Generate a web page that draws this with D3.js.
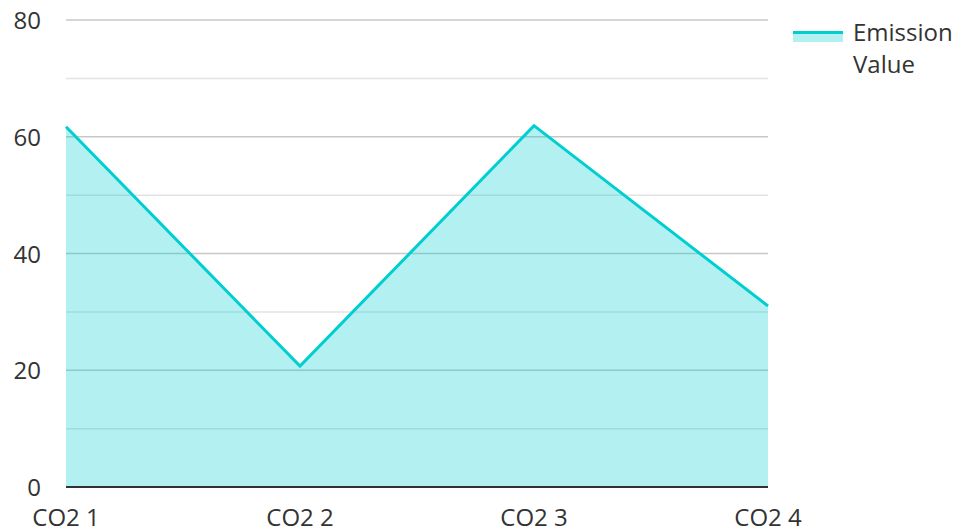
<!DOCTYPE html>
<html lang="en">
<head>
	<meta charset="UTF-8">
	<title>Emission Value</title>
	<style>
		html, body {width: 100%; height: 100%; padding: 0; margin: 0; background: #fff;}
		text {font-family: "Open Sans", "Noto Sans", sans-serif; fill: #333;}
	</style>
	<script src="https://d3js.org/d3.v7.min.js"></script>
</head>
<body>
<script>
	var categories = ['CO2 1', 'CO2 2', 'CO2 3', 'CO2 4'];
	var emission = [61.7, 20.7, 61.9, 31];
	var yTicks = [0, 20, 40, 60, 80];
	var minorTicks = [10, 30, 50, 70];
	var seriesName = ['Emission', 'Value'];

	var width = 958, height = 526;
	var margin = {left: 66, top: 20, right: 190, bottom: 39};

	var svg = d3.select('body').append('svg')
		.attr('width', width)
		.attr('height', height);

	var x = d3.scalePoint()
		.domain(categories)
		.range([margin.left, width - margin.right]);
	var y = d3.scaleLinear()
		.domain([0, 80])
		.range([height - margin.bottom, margin.top]);

	// grid
	svg.append('g').selectAll('line.minor')
		.data(minorTicks).enter().append('line')
		.attr('x1', margin.left).attr('x2', width - margin.right)
		.attr('y1', function (d) { return y(d); }).attr('y2', function (d) { return y(d); })
		.attr('stroke', '#e3e3e3').attr('stroke-width', 1.5);
	svg.append('g').selectAll('line.major')
		.data(yTicks.slice(1)).enter().append('line')
		.attr('x1', margin.left).attr('x2', width - margin.right)
		.attr('y1', function (d) { return y(d); }).attr('y2', function (d) { return y(d); })
		.attr('stroke', '#c8c8c8').attr('stroke-width', 1.5);

	var data = categories.map(function (c, i) { return {c: c, v: emission[i]}; });

	svg.append('path')
		.datum(data)
		.attr('fill', 'rgba(0,206,209,0.3)')
		.attr('d', d3.area()
			.x(function (d) { return x(d.c); })
			.y0(y(0))
			.y1(function (d) { return y(d.v); }));

	svg.append('path')
		.datum(data)
		.attr('fill', 'none')
		.attr('stroke', '#00ced1')
		.attr('stroke-width', 3)
		.attr('d', d3.line()
			.x(function (d) { return x(d.c); })
			.y(function (d) { return y(d.v); }));

	// x axis line
	svg.append('line')
		.attr('x1', margin.left).attr('x2', width - margin.right)
		.attr('y1', y(0)).attr('y2', y(0))
		.attr('stroke', '#333').attr('stroke-width', 2);

	svg.append('g').selectAll('text')
		.data(categories).enter().append('text')
		.attr('x', function (d) { return x(d); })
		.attr('y', height + 0)
		.attr('text-anchor', 'middle')
		.style('font-size', '24px')
		.text(function (d) { return d; });

	svg.append('g').selectAll('text')
		.data(yTicks).enter().append('text')
		.attr('x', 41)
		.attr('y', function (d) { return y(d) + 9; })
		.attr('text-anchor', 'end')
		.style('font-size', '24px')
		.text(function (d) { return d; });

	// legend
	var lg = svg.append('g').attr('transform', 'translate(793,31)');
	lg.append('rect').attr('x', 0).attr('y', 0).attr('width', 50).attr('height', 11)
		.attr('fill', 'rgba(0,206,209,0.3)');
	lg.append('line').attr('x1', 0).attr('x2', 50).attr('y1', 1.5).attr('y2', 1.5)
		.attr('stroke', '#00ced1').attr('stroke-width', 3);
	lg.selectAll('text').data(seriesName).enter().append('text')
		.attr('x', 60)
		.attr('y', function (d, i) { return 10 + i * 32; })
		.style('font-size', '24px')
		.text(function (d) { return d; });
</script>
</body>
</html>
